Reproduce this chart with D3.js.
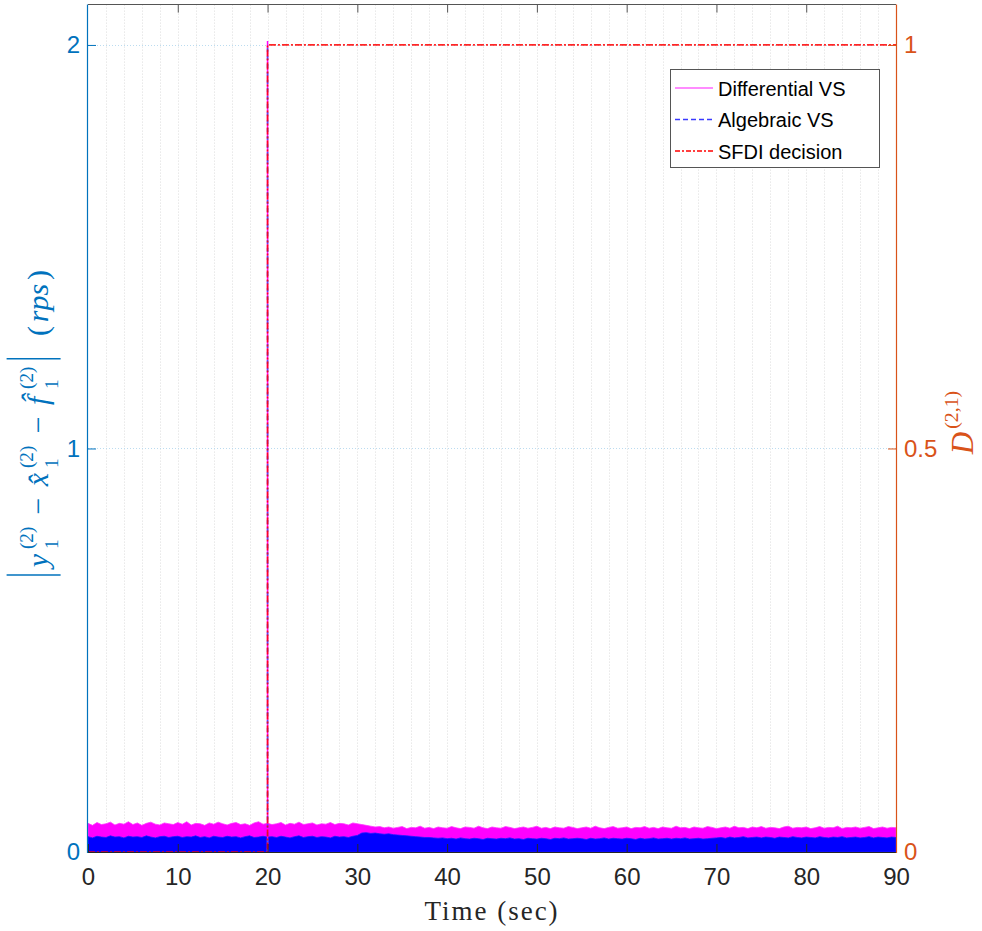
<!DOCTYPE html>
<html>
<head>
<meta charset="utf-8">
<script src="https://cdn.jsdelivr.net/npm/d3@7"></script>
<style>
  html, body { margin: 0; padding: 0; background: #fff; }
  svg { display: block; }
</style>
</head>
<body>
<svg id="chart" width="982" height="931"></svg>
<script>
// ---- data -------------------------------------------------------------
// sample times of the residual envelopes (seconds, every 0.5 s)
const sampleTimes = d3.range(0, 90.5, 0.5);

// upper envelope of |residual| for the differential virtual sensor (rps)
const diffUpper = [
  0.071,0.066,0.073,0.068,0.070,0.074,0.067,0.071,0.069,0.075,
  0.068,0.072,0.066,0.071,0.074,0.069,0.067,0.072,0.070,0.068,
  0.073,0.069,0.075,0.067,0.071,0.070,0.066,0.072,0.069,0.074,
  0.070,0.067,0.071,0.073,0.068,0.070,0.066,0.072,0.075,0.069,
  0.071,0.068,0.070,0.073,0.067,0.071,0.069,0.074,0.068,0.070,
  0.072,0.067,0.070,0.069,0.073,0.068,0.071,0.070,0.067,0.072,
  0.070,0.068,0.066,0.064,0.062,0.063,0.060,0.062,0.059,0.061,
  0.063,0.058,0.061,0.060,0.064,0.059,0.061,0.058,0.062,0.060,
  0.059,0.063,0.060,0.058,0.062,0.061,0.059,0.064,0.060,0.058,
  0.062,0.060,0.059,0.063,0.061,0.058,0.060,0.062,0.059,0.061,
  0.064,0.059,0.061,0.058,0.062,0.060,0.059,0.063,0.061,0.058,
  0.060,0.062,0.059,0.064,0.060,0.058,0.061,0.063,0.059,0.060,
  0.062,0.058,0.061,0.060,0.063,0.059,0.061,0.058,0.062,0.060,
  0.059,0.064,0.060,0.061,0.058,0.062,0.060,0.059,0.063,0.061,
  0.058,0.060,0.062,0.059,0.064,0.060,0.061,0.058,0.062,0.060,
  0.063,0.059,0.061,0.060,0.058,0.062,0.064,0.059,0.061,0.060,
  0.062,0.058,0.060,0.063,0.059,0.061,0.060,0.064,0.058,0.061,
  0.060,0.062,0.059,0.061,0.063,0.058,0.060,0.062,0.059,0.061,
  0.060
];

// upper envelope of |residual| for the algebraic virtual sensor (rps)
const algUpper = [
  0.038,0.035,0.039,0.037,0.036,0.040,0.037,0.038,0.035,0.039,
  0.037,0.038,0.036,0.040,0.037,0.035,0.038,0.039,0.036,0.038,
  0.039,0.036,0.038,0.037,0.040,0.036,0.038,0.035,0.039,0.037,
  0.036,0.039,0.037,0.038,0.035,0.038,0.040,0.036,0.037,0.039,
  0.037,0.038,0.036,0.039,0.037,0.035,0.038,0.040,0.036,0.038,
  0.039,0.036,0.038,0.037,0.035,0.039,0.037,0.038,0.036,0.039,
  0.041,0.047,0.048,0.046,0.047,0.045,0.044,0.045,0.043,0.042,
  0.041,0.040,0.039,0.038,0.037,0.036,0.036,0.035,0.034,0.035,
  0.033,0.034,0.032,0.035,0.033,0.032,0.034,0.033,0.031,0.034,
  0.033,0.032,0.034,0.033,0.035,0.032,0.033,0.031,0.034,0.033,
  0.032,0.034,0.033,0.031,0.034,0.033,0.035,0.032,0.033,0.034,
  0.033,0.031,0.034,0.032,0.033,0.035,0.032,0.034,0.033,0.032,
  0.034,0.033,0.031,0.034,0.032,0.033,0.035,0.032,0.033,0.034,
  0.032,0.034,0.033,0.035,0.032,0.033,0.034,0.032,0.033,0.034,
  0.035,0.036,0.034,0.037,0.035,0.036,0.038,0.035,0.036,0.037,
  0.035,0.037,0.036,0.034,0.037,0.036,0.035,0.038,0.036,0.035,
  0.037,0.036,0.035,0.038,0.036,0.035,0.037,0.036,0.038,0.035,
  0.036,0.037,0.035,0.036,0.038,0.035,0.037,0.036,0.035,0.037,
  0.036
];

// transient at the attack instant
const attackTime = 20;
const diffSpike = 2.01;
const algSpike = 2.0;

// SFDI decision D^(2,1) (right axis)
const decisionTimes  = [0, 20, 20, 90];
const decisionValues = [0, 0, 1, 1];

// axis ticks
const xTicks  = [0, 10, 20, 30, 40, 50, 60, 70, 80, 90];
const yLTicks = [0, 1, 2];
const yRTicks = [0, 0.5, 1];
const yRLabels = ["0", "0.5", "1"];

const legendItems = ["Differential VS", "Algebraic VS", "SFDI decision"];

// ---- layout -----------------------------------------------------------
const svg = d3.select("#chart");
const plotL = 88, plotR = 896, plotT = 4.6, plotB = 852;
const blueAx = "#0072BD", orangeAx = "#D95319", darkAx = "#262626";

const x  = d3.scaleLinear().domain([0, 90]).range([plotL, plotR]);
const yL = d3.scaleLinear().domain([0, 2.1]).range([plotB, plotT]);
const yR = d3.scaleLinear().domain([0, 1.05]).range([plotB, plotT]);

// grid
const grid = svg.append("g");
grid.selectAll("line.vg")
  .data(d3.range(2, 90, 2))
  .join("line")
  .attr("x1", d => Math.round(x(d)) + 0.5).attr("x2", d => Math.round(x(d)) + 0.5)
  .attr("y1", plotT).attr("y2", plotB)
  .attr("stroke", "#dcdcdc").attr("stroke-width", 1)
  .attr("stroke-dasharray", "1,2");
grid.selectAll("line.hg")
  .data(yLTicks.filter(d => d > 0))
  .join("line")
  .attr("x1", plotL).attr("x2", plotR)
  .attr("y1", d => Math.round(yL(d)) + 0.5).attr("y2", d => Math.round(yL(d)) + 0.5)
  .attr("stroke", "#bcdcf0").attr("stroke-width", 1)
  .attr("stroke-dasharray", "1,2");

// residual bands
const bandArea = d3.area()
  .x((d, i) => x(sampleTimes[i]))
  .y0(yL(0))
  .y1(d => yL(d));
svg.append("path").datum(diffUpper)
  .attr("d", bandArea)
  .attr("fill", "#ff00ff").attr("stroke", "#ff33ff").attr("stroke-width", 0.8);
svg.append("path").datum(algUpper)
  .attr("d", bandArea)
  .attr("fill", "#0000ff").attr("stroke", "#1a1aff").attr("stroke-width", 0.8);

// transient spikes at the attack instant
svg.append("line")
  .attr("x1", x(attackTime)).attr("x2", x(attackTime))
  .attr("y1", yL(0)).attr("y2", yL(diffSpike))
  .attr("stroke", "#ff00ff").attr("stroke-width", 1.5);
svg.append("line")
  .attr("x1", x(attackTime)).attr("x2", x(attackTime))
  .attr("y1", yL(0)).attr("y2", yL(algSpike))
  .attr("stroke", "#4d4dff").attr("stroke-width", 1.5)
  .attr("stroke-dasharray", "4,4");

// decision step (right axis)
const decLine = d3.line()
  .x((d, i) => x(decisionTimes[i]))
  .y(d => yR(d));
svg.append("path").datum(decisionValues)
  .attr("d", decLine)
  .attr("fill", "none").attr("stroke", "#ff0000").attr("stroke-width", 1.7)
  .attr("stroke-dasharray", "7,2,2,2").attr("opacity", 0.85);

// ---- axes -------------------------------------------------------------
const fontTicks = "Liberation Sans, Arial, Helvetica, sans-serif";

function styleAxis(g, color, showText) {
  g.select(".domain").remove();
  g.selectAll(".tick line").attr("stroke", color).attr("stroke-width", 1);
  g.selectAll(".tick text")
    .attr("fill", color)
    .attr("font-family", fontTicks)
    .attr("font-size", 24)
    .style("display", showText ? null : "none");
}

svg.append("g").attr("transform", `translate(0,${plotB})`)
  .call(d3.axisBottom(x).tickValues(xTicks).tickSizeInner(-8).tickSizeOuter(0).tickPadding(16))
  .call(g => styleAxis(g, darkAx, true));
svg.append("g").attr("transform", `translate(0,${plotT})`)
  .call(d3.axisTop(x).tickValues(xTicks.slice(1, -1)).tickSizeInner(-8).tickSizeOuter(0))
  .call(g => styleAxis(g, "#555", false));
svg.append("g").attr("transform", `translate(${plotL},0)`)
  .call(d3.axisLeft(yL).tickValues(yLTicks).tickFormat(d3.format("d")).tickSizeInner(-8).tickSizeOuter(0).tickPadding(8))
  .call(g => styleAxis(g, blueAx, true));
svg.append("g").attr("transform", `translate(${plotR},0)`)
  .call(d3.axisRight(yR).tickValues(yRTicks).tickFormat((d, i) => yRLabels[i]).tickSizeInner(-8).tickSizeOuter(0).tickPadding(8))
  .call(g => styleAxis(g, orangeAx, true));

// frame
svg.append("line").attr("x1", plotL).attr("x2", plotR).attr("y1", Math.floor(plotT) + 0.5).attr("y2", Math.floor(plotT) + 0.5)
  .attr("stroke", "#555").attr("stroke-width", 1);
svg.append("line").attr("x1", plotL).attr("x2", plotR).attr("y1", plotB + 0.5).attr("y2", plotB + 0.5)
  .attr("stroke", darkAx).attr("stroke-width", 1);
svg.append("line").attr("x1", plotL - 0.5).attr("x2", plotL - 0.5).attr("y1", plotT).attr("y2", plotB + 1)
  .attr("stroke", blueAx).attr("stroke-width", 1.2);
svg.append("line").attr("x1", plotR + 0.5).attr("x2", plotR + 0.5).attr("y1", plotT).attr("y2", plotB + 1)
  .attr("stroke", orangeAx).attr("stroke-width", 1.2);

// ---- axis labels ------------------------------------------------------
const serif = "Liberation Serif, Times New Roman, DejaVu Serif, serif";

svg.append("text")
  .attr("x", (plotL + plotR) / 2).attr("y", 920)
  .attr("text-anchor", "middle")
  .attr("font-family", serif).attr("font-size", 27)
  .attr("letter-spacing", 2)
  .attr("fill", darkAx)
  .text("Time (sec)");

// builds a horizontal math-style label from pieces, centred on the origin;
// spare room up to `target` px is shared out between the pieces
function mathLabel(parent, pieces, fs, color, target) {
  const g = parent.append("g");
  const items = [];
  pieces.forEach(p => {
    const node = { els: [], w: 0 };
    if (p.bar) {
      node.els.push(g.append("line")
        .attr("y1", -fs * 1.38).attr("y2", fs * 0.42)
        .attr("stroke", color).attr("stroke-width", 1.6).attr("data-dx", 3));
      node.w = 7;
    } else if (p.sup !== undefined) {
      const s = g.append("text").attr("y", -fs * 0.5)
        .attr("font-family", serif).attr("font-size", fs * 0.64).attr("fill", color).text(p.sup);
      node.els.push(s.attr("data-dx", 1));
      let w = s.node().getComputedTextLength();
      if (p.sub !== undefined) {
        const b = g.append("text").attr("y", fs * 0.32)
          .attr("font-family", serif).attr("font-size", fs * 0.64).attr("fill", color).text(p.sub);
        node.els.push(b.attr("data-dx", 1));
        w = Math.max(w, b.node().getComputedTextLength());
      }
      node.w = w + 2;
    } else {
      const t = g.append("text").attr("y", 0)
        .attr("font-family", serif).attr("font-size", fs).attr("fill", color)
        .attr("font-style", p.it ? "italic" : "normal")
        .style("white-space", "pre")
        .text(p.t);
      node.els.push(t.attr("data-dx", 0));
      node.w = t.node().getComputedTextLength() + (p.gap || 0);
    }
    items.push(node);
  });
  const natural = d3.sum(items, d => d.w);
  const extra = target ? Math.max(0, target - natural) / Math.max(1, items.length - 1) : 0;
  const total = natural + extra * (items.length - 1);
  let cx = -total / 2;
  items.forEach(n => {
    n.els.forEach(el => {
      const dx = +el.attr("data-dx");
      if (el.node().tagName === "line") el.attr("x1", cx + dx).attr("x2", cx + dx);
      else el.attr("x", cx + dx);
    });
    cx += n.w + extra;
  });
  return g;
}

const leftLabel = svg.append("g").attr("transform", "translate(48,424) rotate(-90)");
mathLabel(leftLabel, [
  { bar: true },
  { t: "y", it: true },
  { sup: "(2)", sub: "1" },
  { t: " − " },
  { t: "x̂", it: true },
  { sup: "(2)", sub: "1" },
  { t: " − " },
  { t: "f̂", it: true, gap: 3 },
  { sup: "(2)", sub: "1" },
  { bar: true },
  { t: "  (" },
  { t: "rps", it: true },
  { t: ")" }
], 30, blueAx, 308);

const rightLabel = svg.append("g").attr("transform", "translate(973,422) rotate(-90)");
mathLabel(rightLabel, [
  { t: "D", it: true, gap: 2 },
  { sup: "(2,1)" }
], 31, orangeAx, 0);

// ---- legend -----------------------------------------------------------
const lg = svg.append("g");
lg.append("rect")
  .attr("x", 670.5).attr("y", 69.5).attr("width", 209).attr("height", 98)
  .attr("fill", "#fff").attr("stroke", "#555").attr("stroke-width", 1);
const legendStyles = [
  { color: "#ff66ff", dash: null },
  { color: "#3a3aff", dash: "5,3" },
  { color: "#ff0000", dash: "5,2,2,2" }
];
legendItems.forEach((name, i) => {
  const yy = 88 + i * 31.5;
  lg.append("line")
    .attr("x1", 675).attr("x2", 713).attr("y1", yy).attr("y2", yy)
    .attr("stroke", legendStyles[i].color).attr("stroke-width", 1.3)
    .attr("stroke-dasharray", legendStyles[i].dash);
  lg.append("text")
    .attr("x", 718).attr("y", yy + 7.5)
    .attr("font-family", fontTicks).attr("font-size", 20)
    .attr("fill", "#000")
    .text(name);
});
</script>
</body>
</html>
